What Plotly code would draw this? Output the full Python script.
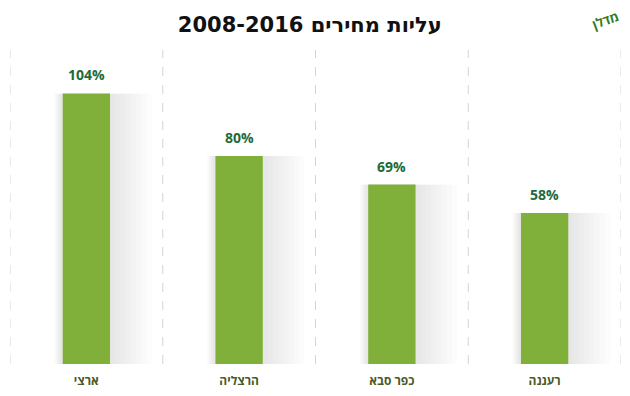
import plotly.graph_objects as go

categories = ["ארצי", "הרצליה", "כפר סבא", "רעננה"]
values = [104, 80, 69, 58]
labels = ["104%", "80%", "69%", "58%"]

fig = go.Figure()

# soft shadow layers
n = 8
for i in range(n):
    w = 0.36 + i * 0.04
    fig.add_trace(go.Bar(
        x=categories, y=values, width=w, offset=-0.17 - i * 0.006,
        marker=dict(color="rgba(0,0,0,0.011)", line=dict(width=0)),
        hoverinfo="skip", showlegend=False,
    ))

fig.add_trace(go.Bar(
    x=categories, y=values, width=0.31,
    marker=dict(color="#80b03a", line=dict(width=0)),
    showlegend=False,
))

for c, v, t in zip(categories, values, labels):
    fig.add_annotation(x=c, y=v, text="<b>%s</b>" % t, showarrow=False,
                       yanchor="bottom", yshift=7,
                       font=dict(family="Open Sans", size=14, color="#1e6b3a"))

shapes = []
for b in [-0.5, 0.5, 1.5, 2.5, 3.5]:
    shapes.append(dict(type="line", xref="x", yref="paper", x0=b, x1=b, y0=0, y1=1,
                       line=dict(color="#d4d4d4", width=1, dash="dash"), layer="below"))

fig.update_layout(
    width=630, height=396,
    margin=dict(l=2, r=17, t=42, b=40),
    paper_bgcolor="white", plot_bgcolor="white",
    barmode="overlay",
    title=dict(text="<b>עליות מחירים 2008-2016</b>", x=0.479, xanchor="center", y=0.958, yanchor="middle",
               font=dict(family="DejaVu Sans", size=21, color="#111111")),
    xaxis=dict(showgrid=False, showline=False, zeroline=False, ticks="",
               tickfont=dict(family="Open Sans", size=12, color="#4b5a26"),
               tickvals=categories, ticktext=["<b>%s</b>" % c for c in categories],
               ticklabelstandoff=8,
               range=[-0.5, 3.5]),
    yaxis=dict(visible=False, range=[0, 120.7]),
    shapes=shapes,
)

fig.add_annotation(text="<b>מדלן</b>", xref="paper", yref="paper", x=0.975, y=1.095,
                   xanchor="center", yanchor="middle", showarrow=False, textangle=-20,
                   font=dict(family="Open Sans", size=13, color="#2e7d1e"))

fig.write_html("out.html")
